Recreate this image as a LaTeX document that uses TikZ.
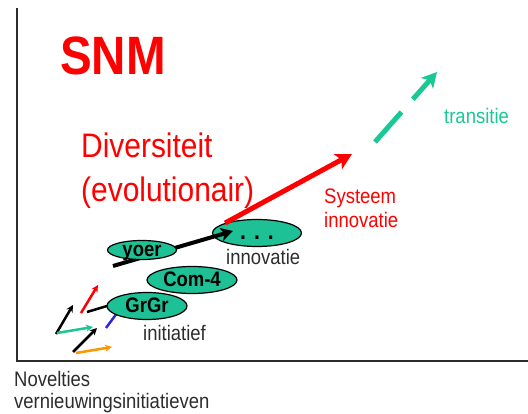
\documentclass[tikz,border=0pt]{standalone}
\usepackage{fontspec}
\newfontfamily\sansn[FakeStretch=0.88]{Liberation Sans}
\usetikzlibrary{arrows.meta,shapes.geometric}
\definecolor{tealA}{RGB}{26,200,150}
\definecolor{ellfill}{RGB}{30,192,150}
\definecolor{txtgray}{RGB}{45,45,45}
\definecolor{orng}{RGB}{255,150,0}
\definecolor{blu}{RGB}{40,40,220}
\newcommand\elltext[1]{\makebox[0pt]{\raisebox{-0.33em}[0pt][0pt]{#1}}}
\begin{document}
\begin{tikzpicture}[x=1pt,y=-1pt,
  ell/.style={ellipse, draw=black, line width=1.2pt, fill=ellfill, inner sep=0pt,
    font=\sansn\bfseries\fontsize{21}{24}\selectfont},
  lbl/.style={inner sep=0pt, font=\sansn\fontsize{21}{24}\selectfont, align=left},
  smallarrow/.style={line width=2.5pt, -{Stealth[length=7pt,width=7pt]}},
  bigarrow/.style={line width=5pt, -{Stealth[length=16pt,width=17pt,inset=4pt]}},
  ]
\useasboundingbox (0,0) rectangle (528,414);
\fill[white] (0,0) rectangle (528,414);

% axes
\coordinate (axtop) at (17,8);
\coordinate (axorigin) at (17,361);
\coordinate (axright) at (528,361);
\draw[line width=2pt, txtgray] (axtop) -- (axorigin) -- (axright);

% titles
\node[anchor=base west, inner sep=0pt, text=red,
  font=\sansn\bfseries\fontsize{54}{60}\selectfont] (snm) at (60,75) {SNM};
\node[anchor=north west, inner sep=0pt, text=red, align=left,
  font=\sansn\fontsize{34}{44}\selectfont] (div) at (81,133) {Diversiteit\\(evolutionair)};

% ellipse "..."
\node[ell, minimum width=89pt, minimum height=27pt] (dots) at (257,233)
  {\elltext{\fontsize{24}{24}\selectfont .\,\,.\,\,.}};

% black arrow through yoer
\coordinate (bstart) at (113,266);
\coordinate (bend) at (233,231);
\draw[line width=4pt, -{Stealth[length=12pt,width=13pt,inset=3pt]}] (bstart) -- (bend);

% small initiatives
\coordinate (s1a) at (56,334); \coordinate (s1b) at (73,305);
\coordinate (s2a) at (57,333); \coordinate (s2b) at (93,327);
\coordinate (s3a) at (73,352); \coordinate (s3b) at (97,328);
\coordinate (s4a) at (76,353); \coordinate (s4b) at (112,347);
\coordinate (s5a) at (81,313); \coordinate (s5b) at (98,285);
\coordinate (l1a) at (87,312);
\coordinate (l2a) at (106,328); \coordinate (l2b) at (117,313);
\draw[smallarrow, black] (s1a) -- (s1b);
\draw[smallarrow, tealA] (s2a) -- (s2b);
\draw[smallarrow, black] (s3a) -- (s3b);
\draw[smallarrow, orng] (s4a) -- (s4b);
\draw[smallarrow, red] (s5a) -- (s5b);
\draw[line width=2.5pt, blu] (l2a) -- (l2b);

% ellipses
\node[ell, minimum width=69pt, minimum height=19pt] (yoer) at (142,250) {\elltext{yoer}};
\node[ell, minimum width=90pt, minimum height=27pt] (com) at (192,280) {\elltext{Com-4}};
\draw[line width=2.5pt, black] (l1a) -- (107,306);
\node[ell, minimum width=80pt, minimum height=27pt] (grgr) at (147,306) {\elltext{GrGr}};

% red system innovation arrow
\coordinate (rend) at (352,154);
\draw[bigarrow, red] (dots.north west) -- (rend);

% teal dashed transition arrow
\coordinate (tstart) at (375,142);
\coordinate (tend) at (437,72);
\draw[line width=5pt, tealA, dash pattern=on 40pt off 17pt,
  -{Stealth[length=15pt,width=16pt,inset=4pt]}] (tstart) -- (tend);

% labels
\node[lbl, anchor=north west, text=red] (sys) at (324,189) {Systeem\\innovatie};
\node[lbl, anchor=base west, text=tealA] (trans) at (444,124) {transitie};
\node[lbl, anchor=base west, text=txtgray] (innov) at (226,265) {innovatie};
\node[lbl, anchor=base west, text=txtgray] (init) at (143,341) {initiatief};
\node[lbl, anchor=north west, text=txtgray, font=\sansn\fontsize{21}{22}\selectfont]
  (nov) at (14,371) {Novelties\\vernieuwingsinitiatieven};
\end{tikzpicture}
\end{document}
